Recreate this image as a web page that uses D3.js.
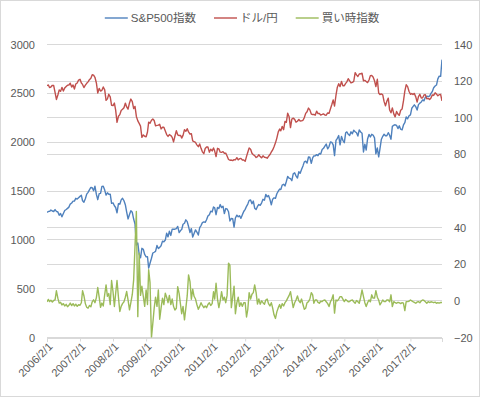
<!DOCTYPE html>
<html>
<head>
<meta charset="utf-8">
<script src="https://cdn.jsdelivr.net/npm/d3@7"></script>
<style>
  body { margin: 0; background: #fff; }
  svg { display: block; font-family: "Liberation Sans", "Noto Sans CJK JP", sans-serif; }
</style>
</head>
<body>
<script>
// semi-monthly points: 1st and 16th of each month, Feb 2006 .. Jan 2018
const dates = d3.timeMonth
  .range(new Date(2006, 1, 1), new Date(2018, 1, 1))
  .flatMap((m) => [m, d3.timeDay.offset(m, 15)]);

// S&P500指数 (left axis)
const spx = [
  1282,1290,1291,1305,1295,1290,1310,1292,1285,1252,1270,1236,1270,1300,1311,1322,1335,1366,1377,1396,1396,1425,
  1418,1431,1445,1456,1400,1386,1420,1468,1486,1512,1536,1533,1503,1549,1465,1411,1473,1476,1547,1548,1509,1458,1481,1467,
  1468,1374,1378,1349,1331,1276,1370,1365,1409,1425,1400,1360,1284,1214,1260,1298,1282,1213,1161,946,968,852,816,913,
  903,850,826,827,710,760,811,865,873,882,942,911,923,940,987,980,998,1068,1030,1088,1045,1109,1108,1109,
  1115,1137,1074,1095,1105,1160,1170,1205,1187,1136,1075,1115,1028,1065,1102,1080,1049,1125,1146,1176,1184,1179,1206,1243,
  1258,1293,1286,1336,1328,1257,1332,1320,1361,1330,1345,1268,1320,1316,1287,1193,1219,1216,1131,1224,1253,1236,1247,1220,
  1258,1290,1312,1343,1366,1404,1408,1370,1397,1324,1310,1342,1362,1353,1379,1415,1406,1465,1440,1454,1412,1359,1416,1430,
  1426,1472,1498,1520,1515,1560,1569,1552,1597,1650,1631,1626,1606,1676,1686,1655,1633,1697,1682,1721,1757,1798,1806,1786,
  1848,1845,1783,1840,1859,1860,1872,1862,1884,1878,1924,1937,1960,1981,1931,1955,2003,1998,1972,1862,2018,2039,2068,1972,
  2059,2019,1995,2096,2105,2081,2068,2106,2086,2122,2107,2096,2063,2125,2104,2092,1900,1980,1920,2033,2079,2053,2080,2073,
  2044,1880,1940,1850,1932,2027,2060,2081,2065,2066,2097,2071,2030,2162,2174,2178,2171,2139,2168,2133,2126,2176,2199,2259,
  2239,2270,2279,2347,2364,2382,2363,2329,2384,2400,2412,2433,2423,2459,2470,2468,2472,2500,2519,2557,2575,2585,2648,2676,
  2674,2845
];

// ドル/円 (right axis)
const usdjpy = [
  117.5,117.9,116.5,116.8,117.7,117.6,113.8,110.0,112.4,115.2,114.4,116.6,114.6,116.3,117.1,117.8,117.9,118.9,116.8,117.9,115.7,118.4,
  119.0,120.6,121.0,119.0,118.2,116.5,117.8,118.8,119.6,120.8,121.6,123.5,123.3,122.1,119.0,113.5,116.0,114.6,115.0,116.8,115.2,109.5,110.3,112.8,
  111.4,106.8,106.6,108.0,104.2,97.5,100.8,101.7,104.0,104.6,105.5,108.0,105.9,104.7,108.1,110.2,108.8,105.0,106.2,100.7,98.3,96.9,95.4,89.3,
  90.6,89.9,89.6,92.2,97.6,97.0,98.6,99.3,98.5,95.6,95.8,96.0,96.4,93.9,94.8,94.8,92.8,90.8,89.8,90.8,90.3,89.3,86.8,89.9,
  92.9,90.7,90.3,90.4,88.9,90.4,93.5,92.6,94.0,92.3,91.1,91.3,87.4,86.9,86.5,85.2,84.2,85.7,83.3,81.4,80.4,83.2,84.0,84.0,
  81.2,82.8,81.9,83.5,81.8,78.8,83.3,83.0,81.2,81.1,81.5,80.6,80.7,79.1,77.2,76.8,76.9,76.6,77.1,77.0,78.2,77.0,77.6,77.8,
  76.9,76.9,76.2,78.9,81.2,83.5,82.8,80.6,79.8,79.3,78.3,78.8,79.8,78.8,78.1,79.2,78.4,78.3,77.9,78.9,79.9,81.3,82.4,84.2,
  86.3,88.9,92.3,93.8,92.9,95.3,93.5,98.0,97.5,102.5,100.5,94.6,99.3,99.8,99.1,97.6,98.1,99.1,98.2,98.3,98.6,100.1,102.4,103.3,
  105.3,104.3,102.0,101.8,101.8,101.4,103.6,102.3,102.3,101.5,101.8,102.1,101.5,101.4,102.6,102.4,104.9,107.2,109.7,106.4,112.3,116.7,118.6,117.0,
  119.8,117.5,117.5,118.8,119.6,121.3,120.1,119.0,119.3,119.8,124.6,123.4,122.5,123.9,124.0,124.3,120.2,120.4,119.8,119.2,120.6,123.0,123.1,122.3,
  120.2,117.0,121.0,113.5,112.7,113.0,112.5,108.8,106.5,109.0,110.7,104.2,102.7,105.4,102.1,100.5,103.4,102.0,101.3,104.1,104.8,109.2,114.5,118.0,
  117.0,114.5,112.8,113.2,112.7,113.3,111.4,108.6,111.5,112.8,110.8,110.9,112.4,112.6,110.3,110.6,110.0,110.8,112.5,112.2,113.6,112.9,112.0,112.6,
  112.7,109.2
];

// 買い時指数 (right axis)
const buyIdx = [
  -0.5,0.8,-0.4,0.3,-0.6,0.2,0.5,5.5,1.5,-1.2,-0.8,-2.2,-1.5,-2.8,-1.9,-3.2,-2.4,-1.2,-2.6,-1.5,-2.8,-1.8,
  -3.0,-2.1,-2.4,-1.0,5.5,2.8,-1.5,-3.5,-4.0,-2.5,-3.2,-0.5,0.6,-1.0,1.8,7.3,2.0,-3.5,-1.2,-2.8,3.5,8.7,2.5,4.0,
  -2.0,11.1,5.0,-3.1,4.0,11.1,2.0,-5.8,-3.0,-1.5,-0.5,2.0,5.1,0.5,-4.9,-1.0,3.5,11.5,30.0,48.8,-8.6,26.0,3.0,8.0,
  2.4,-3.0,6.0,-2.0,17.0,10.0,-20.0,-12.2,-4.0,2.0,-3.0,6.0,-10.0,-4.0,1.5,-2.0,4.2,2.0,-1.0,3.0,-2.0,1.0,-3.0,-5.0,
  -4.0,7.8,4.0,-2.0,-7.0,-3.0,-10.4,-4.0,2.7,14.2,10.5,0.9,6.4,2.5,1.0,-2.0,-4.6,-3.0,-1.0,-2.5,-3.7,-2.8,-3.7,-2.0,
  -1.0,-2.5,-1.5,5.0,1.0,9.6,1.0,-3.7,0.0,5.0,0.5,2.0,-1.0,3.0,20.6,19.5,-3.7,2.0,8.0,-7.0,-1.0,2.0,-3.0,-1.0,
  -3.0,-1.0,-1.0,-8.8,-4.6,4.5,1.0,3.6,4.5,8.7,4.5,-1.8,1.0,-1.8,0.0,-1.0,-1.8,0.5,1.0,-1.5,-2.8,-1.0,-4.0,-7.6,
  -9.6,-6.0,-3.7,-2.0,-4.0,-1.5,-2.8,-1.0,0.0,1.5,3.0,5.0,0.5,-3.7,-1.0,0.5,2.7,0.0,-1.0,1.0,-2.0,-4.6,-4.0,-1.0,
  -0.4,1.0,4.5,3.3,-1.3,0.5,0.5,-0.8,-1.3,-0.2,-0.4,0.3,0.5,-0.5,-1.5,-3.1,-0.5,1.0,3.3,-6.7,0.5,0.0,1.0,2.3,
  2.3,1.0,-0.4,0.8,0.2,-0.5,-0.4,0.3,0.5,-0.5,-1.3,0.2,-0.5,-1.3,2.0,6.0,2.3,-1.0,-3.1,-1.0,0.5,-0.5,3.3,1.5,
  1.5,5.6,2.0,0.5,-2.2,-1.0,0.5,-0.4,-0.4,0.5,0.5,-0.5,3.3,-3.1,-0.4,-1.0,-1.3,-0.8,-1.0,-1.5,-1.0,-1.3,-5.3,-0.4,
  -0.4,-0.2,0.5,0.0,-0.4,-0.8,-1.3,-0.6,-0.4,-1.0,0.0,0.5,0.2,-0.5,-1.3,-0.4,-0.9,-0.5,-0.7,-1.0,-0.7,-1.3,-1.0,-1.2,
  -0.9,-0.9
];

const leftTicks = [0, 500, 1000, 1500, 2000, 2500, 3000];
const rightTicks = [-20, 0, 20, 40, 60, 80, 100, 120, 140];
const xTicks = d3.range(2006, 2018).map((y) => new Date(y, 1, 1));

const seriesNames = ["S&P500指数", "ドル/円", "買い時指数"];
const seriesColors = ["#4F81BD", "#C0504D", "#9BBB59"];

const width = 480,
  height = 397;
const plot = { left: 47, right: 442, top: 44.5, bottom: 337.5 };
const gridColor = "#D9D9D9";
const textColor = "#595959";
const fontSize = 11;

const svg = d3
  .select("body")
  .append("svg")
  .attr("width", width)
  .attr("height", height);

svg
  .append("rect")
  .attr("x", 0.5)
  .attr("y", 0.5)
  .attr("width", width - 1)
  .attr("height", height - 1)
  .attr("fill", "#fff")
  .attr("stroke", gridColor);

const x = d3
  .scaleTime()
  .domain([dates[0], dates[dates.length - 1]])
  .range([plot.left, plot.right]);
const yLeft = d3.scaleLinear().domain([0, 3000]).range([plot.bottom, plot.top]);
const yRight = d3.scaleLinear().domain([-20, 140]).range([plot.bottom, plot.top]);

// gridlines of both axes
const grid = svg
  .append("g")
  .attr("stroke", gridColor)
  .attr("shape-rendering", "crispEdges");
grid
  .selectAll("line.l")
  .data(leftTicks)
  .enter()
  .append("line")
  .attr("x1", plot.left)
  .attr("x2", plot.right)
  .attr("y1", (d) => yLeft(d))
  .attr("y2", (d) => yLeft(d));
grid
  .selectAll("line.r")
  .data(rightTicks)
  .enter()
  .append("line")
  .attr("class", "r")
  .attr("x1", plot.left)
  .attr("x2", plot.right)
  .attr("y1", (d) => yRight(d))
  .attr("y2", (d) => yRight(d));

function styleAxis(g) {
  g.select(".domain").remove();
  g.selectAll("text")
    .attr("fill", textColor)
    .attr("font-size", fontSize)
    .attr("font-family", "Liberation Sans, sans-serif");
}

svg
  .append("g")
  .attr("transform", `translate(${plot.left},0)`)
  .call(
    d3
      .axisLeft(yLeft)
      .tickValues(leftTicks)
      .tickFormat(d3.format("d"))
      .tickSize(0)
      .tickPadding(12)
  )
  .call(styleAxis);

svg
  .append("g")
  .attr("transform", `translate(${plot.right},0)`)
  .call(
    d3
      .axisRight(yRight)
      .tickValues(rightTicks)
      .tickFormat(d3.format("d"))
      .tickSize(0)
      .tickPadding(12)
  )
  .call(styleAxis);

const xAxis = svg
  .append("g")
  .attr("transform", `translate(0,${plot.bottom})`)
  .call(
    d3
      .axisBottom(x)
      .tickValues(xTicks)
      .tickSizeOuter(0)
      .tickSize(4)
      .tickFormat(d3.timeFormat("%Y/%-m/%-d"))
  );
xAxis
  .select(".domain")
  .attr("stroke", gridColor)
  .attr("shape-rendering", "crispEdges");
xAxis.selectAll(".tick line").attr("stroke", gridColor);
xAxis
  .selectAll("text")
  .attr("fill", textColor)
  .attr("font-size", fontSize)
  .attr("font-family", "Liberation Sans, sans-serif")
  .attr("x", 0)
  .attr("y", 0)
  .attr("dy", "0.35em")
  .attr("text-anchor", "end")
  .attr("transform", "translate(3,7) rotate(-45)");

// series
svg
  .append("clipPath")
  .attr("id", "plot-clip")
  .append("rect")
  .attr("x", plot.left)
  .attr("y", plot.top)
  .attr("width", plot.right - plot.left)
  .attr("height", plot.bottom - plot.top);

const series = [
  { values: spx, y: yLeft },
  { values: usdjpy, y: yRight },
  { values: buyIdx, y: yRight },
];

const lines = svg.append("g").attr("clip-path", "url(#plot-clip)");
series.forEach((s, k) => {
  const line = d3
    .line()
    .defined((d, i) => d != null && dates[i] != null)
    .x((d, i) => x(dates[i]))
    .y((d) => s.y(d));
  lines
    .append("path")
    .datum(s.values)
    .attr("fill", "none")
    .attr("stroke", seriesColors[k])
    .attr("stroke-width", 1.4)
    .attr("stroke-linejoin", "round")
    .attr("d", line);
});

// legend
const legend = svg.append("g").attr("transform", "translate(0,18)");
const items = legend
  .selectAll("g")
  .data(seriesNames)
  .enter()
  .append("g");
items
  .append("line")
  .attr("x1", 0)
  .attr("x2", 23)
  .attr("stroke", (d, i) => seriesColors[i])
  .attr("stroke-width", 1.4);
items
  .append("text")
  .attr("x", 26)
  .attr("dy", "0.35em")
  .attr("fill", textColor)
  .attr("font-size", 11.5)
  .text((d) => d);

let offset = 0;
const widths = [];
items.each(function () {
  widths.push(26 + d3.select(this).select("text").node().getComputedTextLength());
});
const total = d3.sum(widths) + 18 * (widths.length - 1);
offset = 242 - total / 2;
items.attr("transform", (d, i) => {
  const t = `translate(${offset},0)`;
  offset += widths[i] + 18;
  return t;
});
</script>
</body>
</html>
